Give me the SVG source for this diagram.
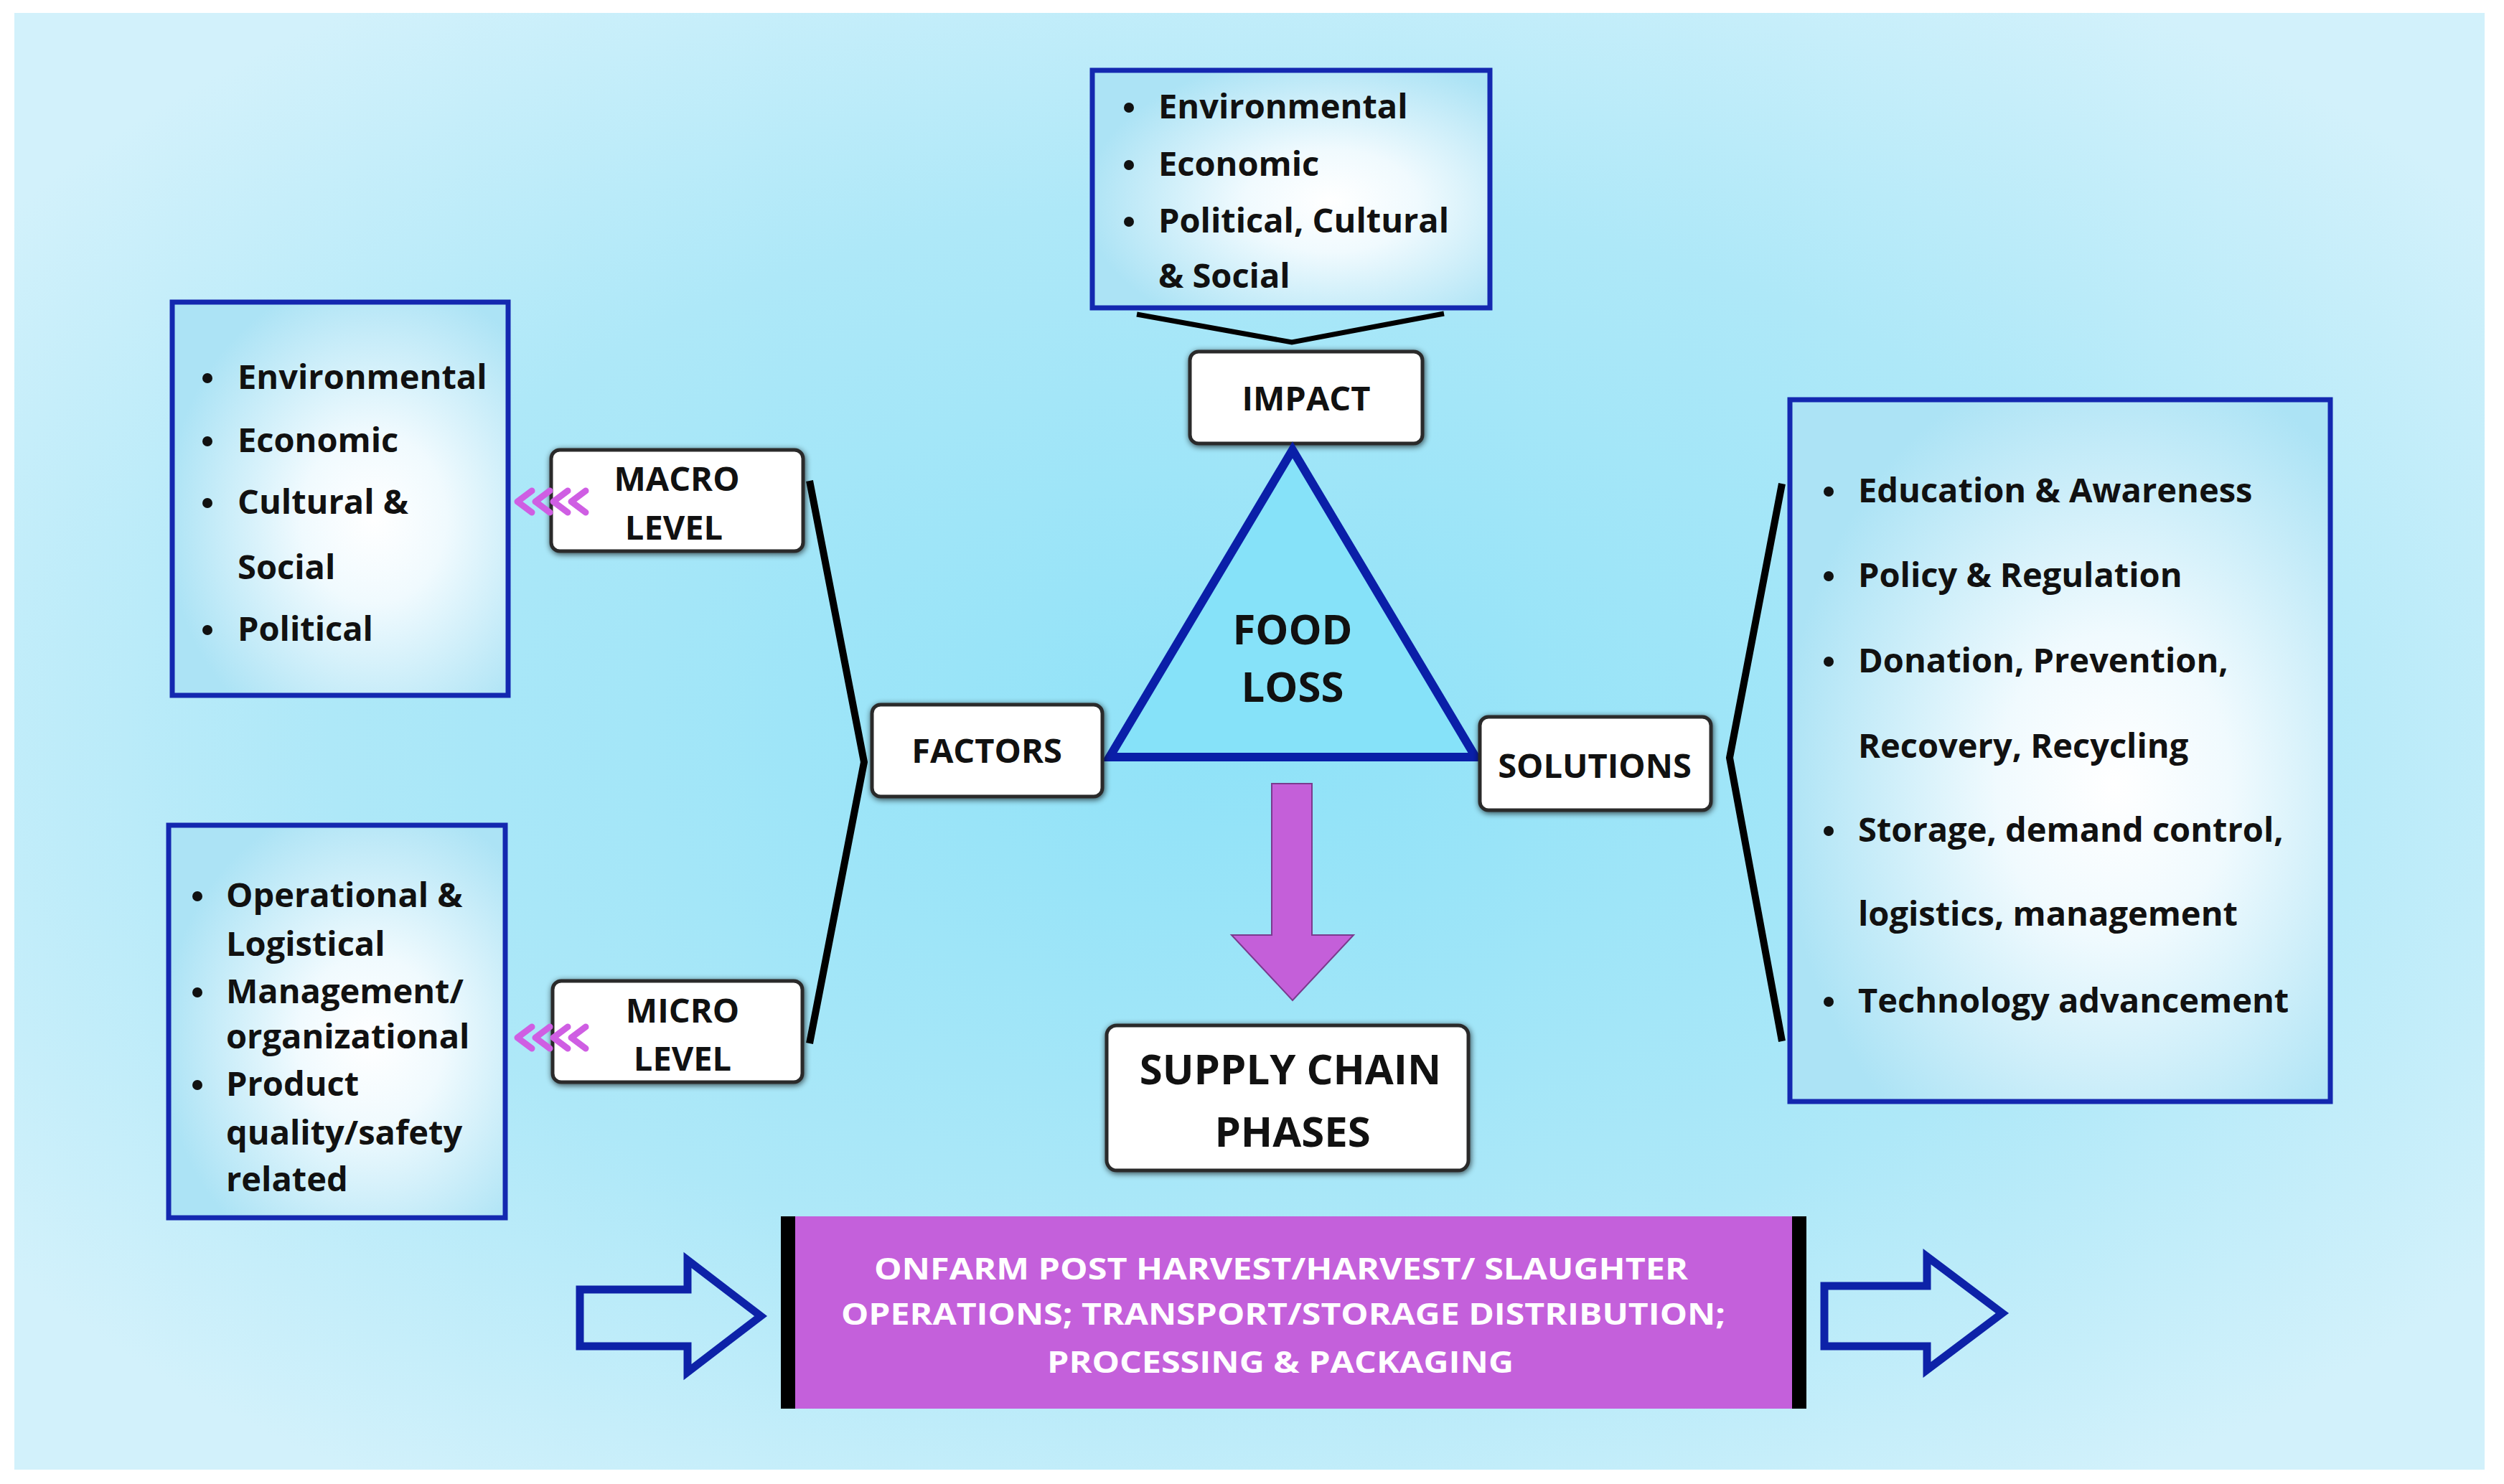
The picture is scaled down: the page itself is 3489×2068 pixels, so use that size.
<svg xmlns="http://www.w3.org/2000/svg" width="3489" height="2068" viewBox="0 0 3489 2068">
<defs>
<radialGradient id="bg" cx="0.5" cy="0.5" r="0.62">
<stop offset="0" stop-color="#8fe2f8"/>
<stop offset="0.6" stop-color="#aee8f8"/>
<stop offset="1" stop-color="#d2f1fb"/>
</radialGradient>
<radialGradient id="listfill" cx="0.6" cy="0.55" r="0.62">
<stop offset="0" stop-color="#ffffff"/>
<stop offset="0.35" stop-color="#f0fafe"/>
<stop offset="1" stop-color="#ace3f5"/>
</radialGradient>
<filter id="sh" x="-10%" y="-20%" width="120%" height="140%">
<feGaussianBlur in="SourceAlpha" stdDeviation="4"/>
<feOffset dx="1" dy="2" result="b"/>
<feComponentTransfer><feFuncA type="linear" slope="0.7"/></feComponentTransfer>
<feMerge><feMergeNode/><feMergeNode in="SourceGraphic"/></feMerge>
</filter>
</defs>
<style>
.list{fill:url(#listfill);stroke:#1428b0;stroke-width:7}
.node{fill:#ffffff;stroke:#2b2b2b;stroke-width:5}
.t{font-family:"Open Sans","Liberation Sans",sans-serif;font-weight:700;fill:#111111}
.li{font-size:47px}
.lbl{font-size:47px;text-anchor:middle}
.big{font-size:58px;text-anchor:middle}
.bar{font-family:"Open Sans","Liberation Sans",sans-serif;font-weight:700;font-size:42px;fill:#ffffff;text-anchor:middle}
.blk{fill:none;stroke:#000000;stroke-width:10;stroke-linejoin:miter}
.chev{fill:none;stroke:#cf5ee3;stroke-width:9;stroke-linecap:round;stroke-linejoin:round}
.hollow{fill:none;stroke:#0d22a8;stroke-width:11;stroke-linejoin:miter}
</style>
<rect x="0" y="0" width="3489" height="2068" fill="#ffffff"/>
<rect x="20" y="18" width="3442" height="2030" fill="url(#bg)"/>

<g id="impact-list">
<rect class="list" x="1522" y="98" width="554" height="331"/>
<circle cx="1573" cy="150" r="7" fill="#111"/>
<circle cx="1573" cy="230" r="7" fill="#111"/>
<circle cx="1573" cy="309" r="7" fill="#111"/>
<text class="t li" x="1614" y="165">Environmental</text>
<text class="t li" x="1614" y="245">Economic</text>
<text class="t li" x="1614" y="324">Political, Cultural</text>
<text class="t li" x="1614" y="401">&amp; Social</text>
</g>

<g id="impact">
<rect class="node" filter="url(#sh)" x="1658" y="490" width="324" height="128" rx="12"/>
<text class="t lbl" x="1820" y="572">IMPACT</text>
</g>

<g id="food-loss">
<polygon points="1801,627 2056,1055 1546,1055" fill="#86e2f9" stroke="#0a1fa8" stroke-width="12" stroke-linejoin="miter"/>
<text class="t big" x="1801" y="898">FOOD</text>
<text class="t big" x="1801" y="978">LOSS</text>
</g>

<g id="factors">
<rect class="node" filter="url(#sh)" x="1215" y="982" width="321" height="128" rx="12"/>
<text class="t lbl" x="1375" y="1063">FACTORS</text>
</g>

<g id="solutions">
<rect class="node" filter="url(#sh)" x="2062" y="999" width="322" height="130" rx="12"/>
<text class="t lbl" x="2222" y="1084">SOLUTIONS</text>
</g>

<g id="macro-level">
<rect class="node" filter="url(#sh)" x="768" y="627" width="351" height="141" rx="12"/>
<text class="t lbl" x="943" y="684">MACRO</text>
<text class="t lbl" x="939" y="752">LEVEL</text>
</g>

<g id="micro-level">
<rect class="node" filter="url(#sh)" x="770" y="1367" width="348" height="141" rx="12"/>
<text class="t lbl" x="951" y="1425">MICRO</text>
<text class="t lbl" x="951" y="1492">LEVEL</text>
</g>

<g id="macro-list">
<rect class="list" x="240" y="421" width="468" height="548"/>
<circle cx="289" cy="527" r="7" fill="#111"/>
<circle cx="289" cy="615" r="7" fill="#111"/>
<circle cx="289" cy="701" r="7" fill="#111"/>
<circle cx="289" cy="878" r="7" fill="#111"/>
<text class="t li" x="331" y="542">Environmental</text>
<text class="t li" x="331" y="630">Economic</text>
<text class="t li" x="331" y="716">Cultural &amp;</text>
<text class="t li" x="331" y="807">Social</text>
<text class="t li" x="331" y="893">Political</text>
</g>

<g id="micro-list">
<rect class="list" x="235" y="1150" width="469" height="547"/>
<circle cx="275" cy="1249" r="7" fill="#111"/>
<circle cx="275" cy="1383" r="7" fill="#111"/>
<circle cx="275" cy="1512" r="7" fill="#111"/>
<text class="t li" x="315" y="1264">Operational &amp;</text>
<text class="t li" x="315" y="1332">Logistical</text>
<text class="t li" x="315" y="1398">Management/</text>
<text class="t li" x="315" y="1461">organizational</text>
<text class="t li" x="315" y="1527">Product</text>
<text class="t li" x="315" y="1595">quality/safety</text>
<text class="t li" x="315" y="1660">related</text>
</g>

<g id="solutions-list">
<rect class="list" x="2494" y="557" width="753" height="978"/>
<circle cx="2548" cy="685" r="7" fill="#111"/>
<circle cx="2548" cy="803" r="7" fill="#111"/>
<circle cx="2548" cy="922" r="7" fill="#111"/>
<circle cx="2548" cy="1158" r="7" fill="#111"/>
<circle cx="2548" cy="1396" r="7" fill="#111"/>
<text class="t li" x="2589" y="700">Education &amp; Awareness</text>
<text class="t li" x="2589" y="818">Policy &amp; Regulation</text>
<text class="t li" x="2589" y="937">Donation, Prevention,</text>
<text class="t li" x="2589" y="1056">Recovery, Recycling</text>
<text class="t li" x="2589" y="1173">Storage, demand control,</text>
<text class="t li" x="2589" y="1290">logistics, management</text>
<text class="t li" x="2589" y="1411">Technology advancement</text>
</g>

<g id="supply-chain-phases">
<rect class="node" filter="url(#sh)" x="1542" y="1429" width="504" height="202" rx="14"/>
<text class="t big" x="1798" y="1511">SUPPLY CHAIN</text>
<text class="t big" x="1801" y="1598">PHASES</text>
</g>

<g id="phases-bar">
<rect x="1088" y="1695" width="1429" height="268" fill="#c460db"/>
<rect x="1088" y="1695" width="20" height="268" fill="#000000"/>
<rect x="2497" y="1695" width="20" height="268" fill="#000000"/>
<text class="bar" x="1785" y="1783" textLength="1134" lengthAdjust="spacingAndGlyphs">ONFARM POST HARVEST/HARVEST/ SLAUGHTER</text>
<text class="bar" x="1788" y="1846" textLength="1232" lengthAdjust="spacingAndGlyphs">OPERATIONS; TRANSPORT/STORAGE DISTRIBUTION;</text>
<text class="bar" x="1784" y="1913" textLength="650" lengthAdjust="spacingAndGlyphs">PROCESSING &amp; PACKAGING</text>
</g>

<g id="connectors">
<polyline class="blk" style="stroke-width:7" points="1584,438 1800,477 2012,437"/>
<polyline class="blk" points="1128,670 1204,1062 1128,1454"/>
<polyline class="blk" points="2483,674 2410,1056 2483,1451"/>
<g id="chevrons-macro">
<polyline class="chev" points="741,684 721,699 741,714"/>
<polyline class="chev" points="766,684 746,699 766,714"/>
<polyline class="chev" points="791,684 771,699 791,714"/>
<polyline class="chev" points="816,684 796,699 816,714"/>
</g>
<g id="chevrons-micro">
<polyline class="chev" points="741,1431 721,1446 741,1461"/>
<polyline class="chev" points="766,1431 746,1446 766,1461"/>
<polyline class="chev" points="791,1431 771,1446 791,1461"/>
<polyline class="chev" points="816,1431 796,1446 816,1461"/>
</g>
<polygon id="down-arrow" points="1772,1092 1828,1092 1828,1303 1886,1303 1801,1394 1716,1303 1772,1303" fill="#c45fd9" stroke="#7a3a8e" stroke-width="2"/>
<polygon id="arrow-left" class="hollow" points="808,1797 958,1797 958,1756 1060,1834 958,1912 958,1876 808,1876"/>
<polygon id="arrow-right" class="hollow" points="2542,1792 2685,1792 2685,1751 2790,1830 2685,1909 2685,1876 2542,1876"/>
</g>
</svg>
